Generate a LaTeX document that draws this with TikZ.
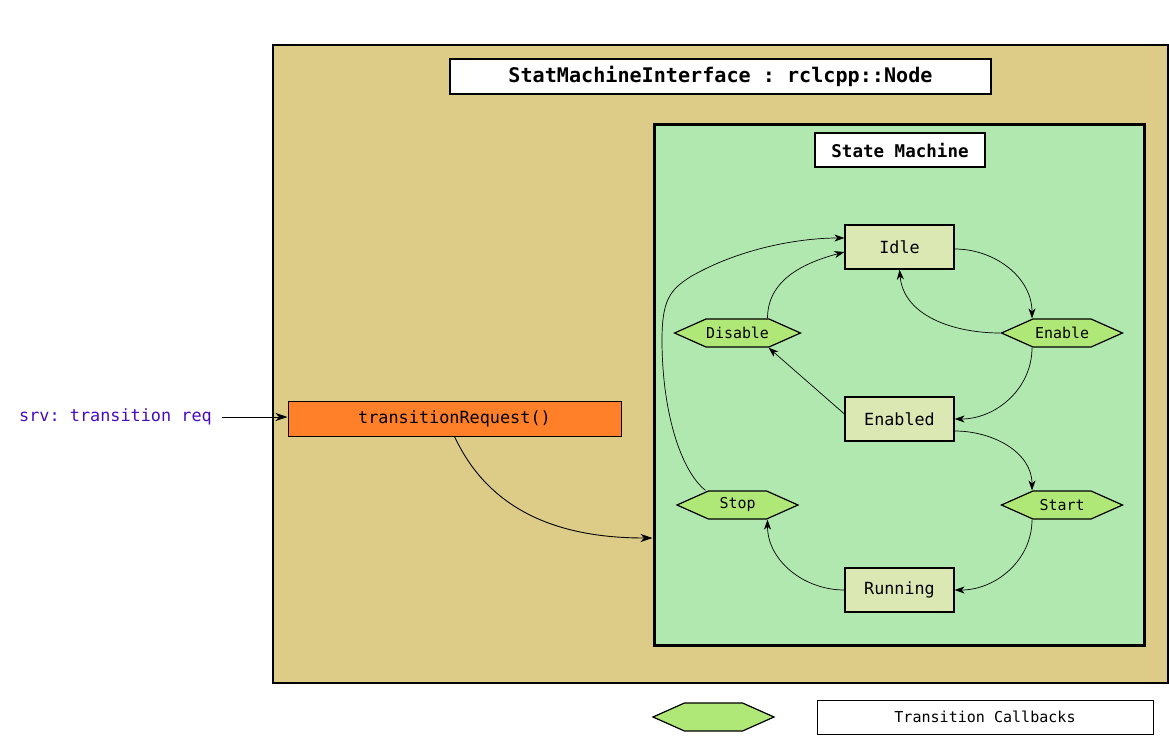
\documentclass[tikz,border=0pt]{standalone}
\usepackage{fontspec}
\setmonofont{DejaVu Sans Mono}
\usepackage{tikz}
\usetikzlibrary{shapes.symbols,arrows.meta,calc}

\definecolor{ifacebg}{RGB}{221,204,136}
\definecolor{smbg}{RGB}{176,232,176}
\definecolor{statebg}{RGB}{220,232,180}
\definecolor{cbfill}{RGB}{176,232,120}
\definecolor{reqorange}{RGB}{255,128,40}
\definecolor{srvpurple}{RGB}{72,10,190}

\begin{document}
\begin{tikzpicture}[x=1bp,y=-1bp,
  frame/.style={draw=black,line width=1.2bp,fill=white,inner sep=0pt},
  state/.style={draw=black,line width=1.2bp,fill=statebg,inner sep=0pt,
    minimum width=109bp,minimum height=44bp,font=\ttfamily\fontsize{16.8}{18}\selectfont},
  callback/.style={signal,signal to=east and west,signal pointer angle=48,
    draw=black,line width=1.2bp,fill=cbfill,inner sep=0pt,
    minimum width=121bp,minimum height=28bp,font=\ttfamily\fontsize{15}{16}\selectfont},
  trans/.style={-{Stealth[length=10bp,width=7bp,inset=3bp]},line width=0.7bp},
  bigarrow/.style={-{Stealth[length=12bp,width=8bp,inset=3.5bp]},line width=0.9bp}]
\useasboundingbox (0,0) rectangle (1169,748);
%\draw[very thin,color=gray,step=50] (0,0) grid (1169,748);

% node and state machine frames
\node[draw=black,line width=1.5bp,fill=ifacebg,minimum width=895bp,minimum height=638bp,inner sep=0pt] (iface) at (720.5,364) {};
\node[frame,minimum width=541bp,minimum height=35bp,font=\ttfamily\bfseries\fontsize{20.2}{22}\selectfont] (ifacetitle) at (720.5,76.5) {StatMachineInterface : rclcpp::Node};
\node[draw=black,line width=3bp,fill=smbg,minimum width=490bp,minimum height=520bp,inner sep=0pt] (smbox) at (899,385) {};
\node[frame,minimum width=170bp,minimum height=34bp,font=\ttfamily\bfseries\fontsize{17.6}{19}\selectfont] (smtitle) at (900,150) {State Machine};

% states
\node[state] (idle) at (899.5,247) {Idle};
\node[state] (enabled) at (899.5,419) {Enabled};
\node[state] (running) at (899.5,590) {Running};

% transition callbacks
\node[callback] (disable) at (737.5,333) {Disable};
\node[callback] (enable) at (1062,333) {Enable};
\node[callback] (stop) at (737.5,505) {Stop};
\node[callback] (start) at (1062,505) {Start};

% service entry
\node[draw=black,line width=1bp,fill=reqorange,minimum width=333bp,minimum height=35bp,inner sep=0pt,font=\ttfamily\fontsize{16.9}{18}\selectfont] (treq) at (454.5,418.5) {transitionRequest()};
\node[anchor=east,inner sep=10bp,text=srvpurple,font=\ttfamily\fontsize{16.9}{18}\selectfont] (srv) at (222,417) {srv: transition req};

% legend
\node[callback] (legendcb) at (713.5,717) {};
\node[draw=black,line width=1bp,fill=white,minimum width=336bp,minimum height=34bp,inner sep=0pt,font=\ttfamily\fontsize{15.1}{17}\selectfont] (legendtxt) at (985,717) {Transition Callbacks};

% transitions
\draw[trans] ([yshift=-2bp]idle.east) to[out=0,in=90] ([xshift=-30bp]enable.north);
\draw[trans] (enable.west) to[out=180,in=-85] (idle.south);
\draw[trans] ([xshift=-30bp]enable.south) to[out=-90,in=0] (enabled.east);
\draw[trans] ([yshift=5bp]enabled.west) -- ([xshift=31bp]disable.south);
\draw[trans] ([xshift=30bp]disable.north) to[out=90,in=195] ([yshift=-5bp]idle.west);
\draw[trans] ([yshift=-12bp]enabled.east) to[out=0,in=90] ([xshift=-30bp]start.north);
\draw[trans] ([xshift=-30bp]start.south) to[out=-90,in=0] (running.east);
\draw[trans] (running.west) to[out=180,in=-90] ([xshift=30bp]stop.south);
\draw[trans] ([xshift=-32bp]stop.north) .. controls (680,470) and (662,410) .. (662,340)
  .. controls (662,300) and (670,290) .. (690,277)
  .. controls (740,248) and (800,238) .. ([yshift=9bp]idle.west);

% request path
\draw[bigarrow] (srv.east) -- (srv.east -| treq.west);
\draw[bigarrow] (treq.south) to[out=-65,in=180] ([yshift=-153bp]smbox.west);
\end{tikzpicture}
\end{document}
